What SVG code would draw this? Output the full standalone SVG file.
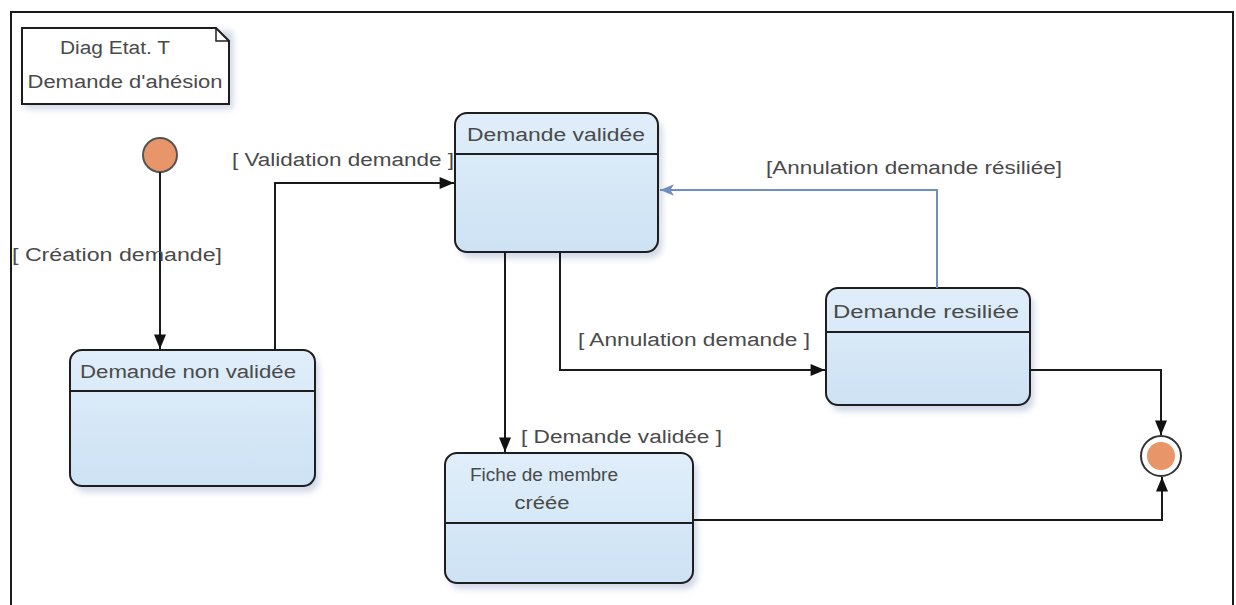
<svg xmlns="http://www.w3.org/2000/svg" width="1236" height="605" viewBox="0 0 1236 605">
<defs>
<style>
.st{fill:url(#g);stroke:#1e1e1e;stroke-width:2}
.sh{fill:#a9b6d2;opacity:.55;filter:url(#blur)}
.sep{stroke:#1e1e1e;stroke-width:2}
.t{font-family:"Liberation Sans",Arial,sans-serif;font-size:18px;fill:#4a4a4a}
.c{fill:none;stroke:#1a1a1a;stroke-width:2}
.cb{fill:none;stroke:#6f8fc0;stroke-width:2}
</style>
<linearGradient id="g" x1="0" y1="0" x2="0" y2="1">
<stop offset="0" stop-color="#e0eefa"/>
<stop offset="1" stop-color="#cde2f4"/>
</linearGradient>
<filter id="blur" x="-10%" y="-10%" width="120%" height="130%"><feGaussianBlur stdDeviation="3"/></filter>
<marker id="a" viewBox="0 0 12 10" refX="12" refY="5" markerWidth="15" markerHeight="12" markerUnits="userSpaceOnUse" orient="auto">
<path d="M0,0 L12,5 L0,10 Z" fill="#111"/>
</marker>
<marker id="ab" viewBox="0 0 12 10" refX="12" refY="5" markerWidth="14" markerHeight="12" markerUnits="userSpaceOnUse" orient="auto">
<path d="M0,0 L12,5 L0,10 L3,5 Z" fill="#6f8fc0"/>
</marker>
</defs>
<rect width="1236" height="605" fill="#fff"/>
<path d="M11,605 V12 H1233 V605" fill="none" stroke="#1a1a1a" stroke-width="2"/>

<g id="note">
<rect x="25" y="31" width="208" height="78" class="sh"/>
<path d="M22,28 H216 L229,41 V104 H22 Z" fill="#fff" stroke="#1e1e1e" stroke-width="2"/>
<path d="M216,28 V41 H229" fill="none" stroke="#1e1e1e" stroke-width="1.5"/>
<text class="t" x="115" y="54" text-anchor="middle" textLength="110" lengthAdjust="spacingAndGlyphs">Diag Etat. T</text>
<text class="t" x="125" y="88" text-anchor="middle" textLength="195" lengthAdjust="spacingAndGlyphs">Demande d'ahésion</text>
</g>

<g id="initial">
<circle cx="160" cy="155" r="17" fill="#e8956a" stroke="#555" stroke-width="2"/>
</g>

<g id="non-validee">
<rect x="74" y="356" width="245" height="136" rx="12" class="sh"/>
<rect x="70" y="350" width="245" height="136" rx="12" class="st"/>
<line x1="70" y1="391" x2="315" y2="391" class="sep"/>
<text class="t" x="188" y="378" text-anchor="middle" textLength="216" lengthAdjust="spacingAndGlyphs">Demande non validée</text>
</g>

<g id="validee">
<rect x="459" y="119" width="203" height="139" rx="12" class="sh"/>
<rect x="455" y="113" width="203" height="139" rx="12" class="st"/>
<line x1="455" y1="154" x2="658" y2="154" class="sep"/>
<text class="t" x="556" y="141" text-anchor="middle" textLength="178" lengthAdjust="spacingAndGlyphs">Demande validée</text>
</g>

<g id="resiliee">
<rect x="830" y="294" width="204" height="117" rx="12" class="sh"/>
<rect x="826" y="288" width="204" height="117" rx="12" class="st"/>
<line x1="826" y1="332" x2="1030" y2="332" class="sep"/>
<text class="t" x="926" y="318" text-anchor="middle" textLength="186" lengthAdjust="spacingAndGlyphs">Demande resiliée</text>
</g>

<g id="fiche">
<rect x="449" y="459" width="248" height="130" rx="12" class="sh"/>
<rect x="445" y="453" width="248" height="130" rx="12" class="st"/>
<line x1="445" y1="523" x2="693" y2="523" class="sep"/>
<text class="t" x="544" y="481" text-anchor="middle" textLength="148" lengthAdjust="spacingAndGlyphs">Fiche de membre</text>
<text class="t" x="542" y="509" text-anchor="middle" textLength="55" lengthAdjust="spacingAndGlyphs">créée</text>
</g>

<g id="final">
<circle cx="1161" cy="456" r="20" fill="#fff" stroke="#333" stroke-width="2"/>
<circle cx="1161" cy="456" r="14" fill="#e8956a"/>
</g>

<g id="connectors">
<path d="M160,172 V349" class="c" marker-end="url(#a)"/>
<path d="M275,350 V183 H454" class="c" marker-end="url(#a)"/>
<path d="M505,252 V452" class="c" marker-end="url(#a)"/>
<path d="M560,252 V370 H825" class="c" marker-end="url(#a)"/>
<path d="M937,288 V190 H660" class="cb" marker-end="url(#ab)"/>
<path d="M1030,370 H1161 V435" class="c" marker-end="url(#a)"/>
<path d="M693,520 H1162 V477" class="c" marker-end="url(#a)"/>
</g>

<g id="labels">
<text class="t" x="12" y="261" textLength="210" lengthAdjust="spacingAndGlyphs">[ Création demande]</text>
<text class="t" x="232" y="166" textLength="222" lengthAdjust="spacingAndGlyphs">[ Validation demande ]</text>
<text class="t" x="766" y="174" textLength="296" lengthAdjust="spacingAndGlyphs">[Annulation demande résiliée]</text>
<text class="t" x="578" y="346" textLength="232" lengthAdjust="spacingAndGlyphs">[ Annulation demande ]</text>
<text class="t" x="521" y="443" textLength="201" lengthAdjust="spacingAndGlyphs">[ Demande validée ]</text>
</g>
</svg>
